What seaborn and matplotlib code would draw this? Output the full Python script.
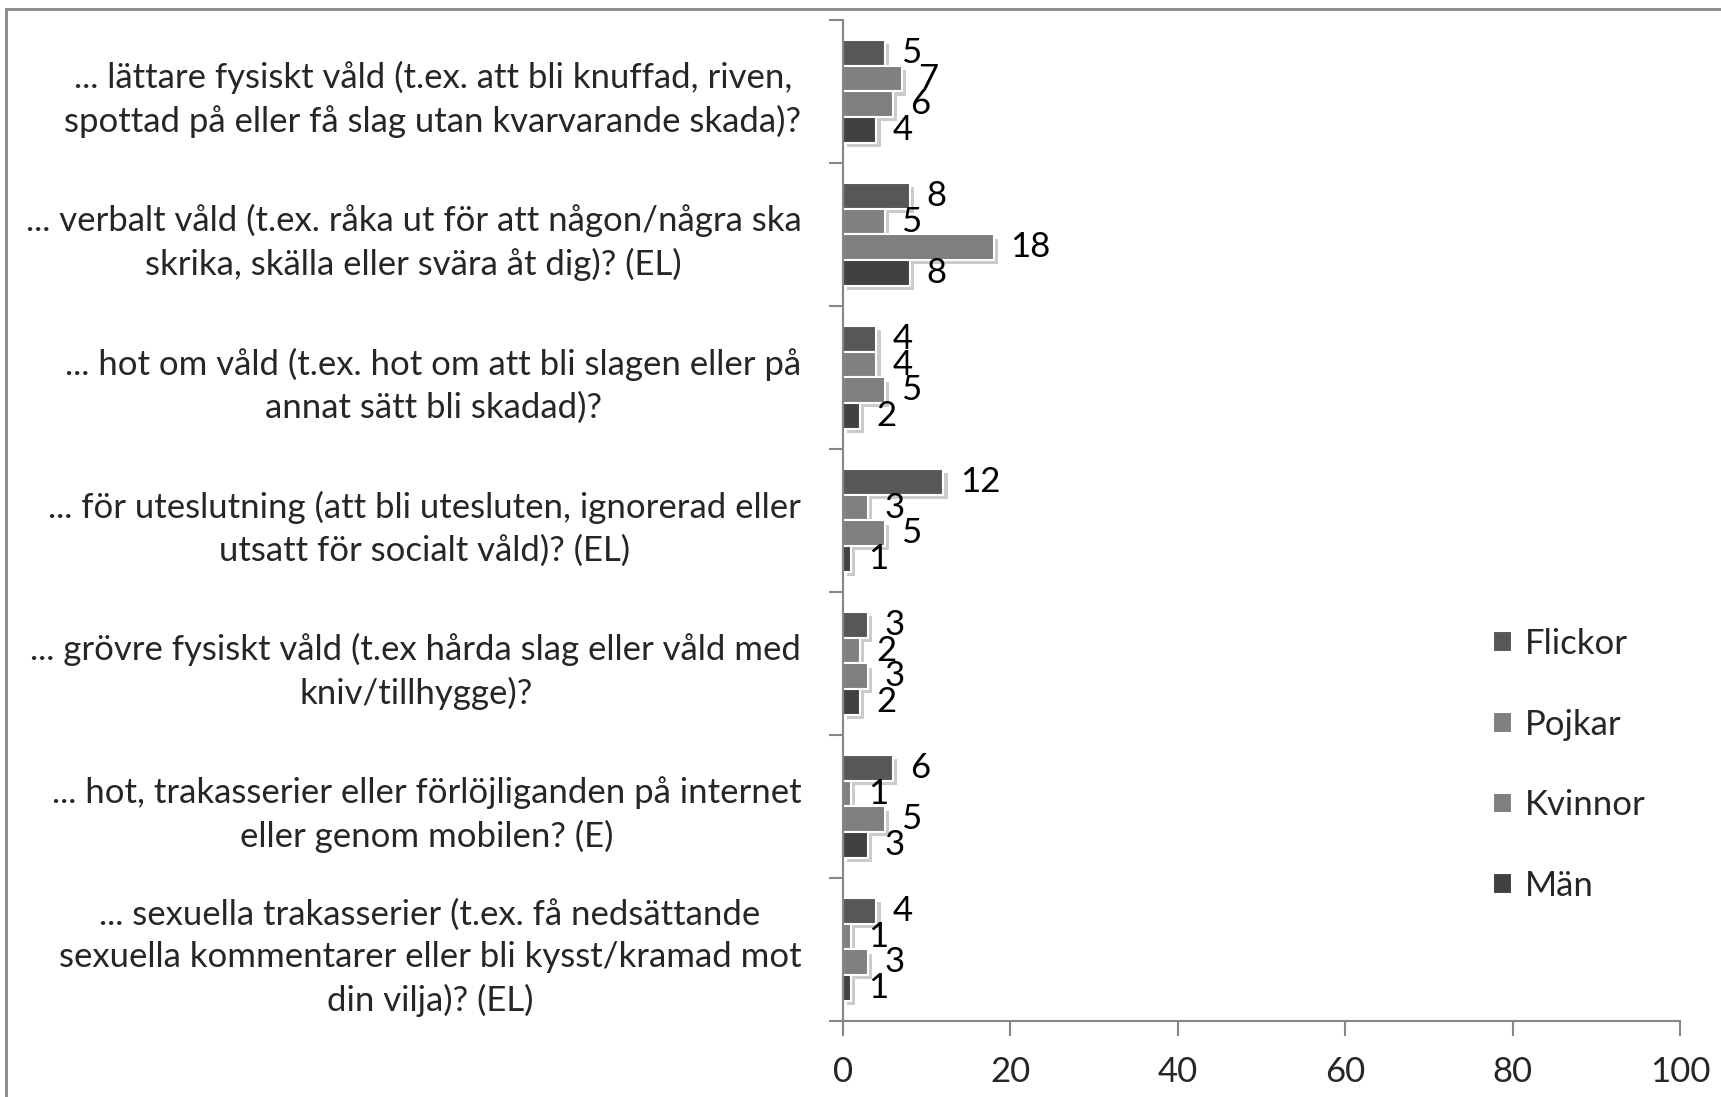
import numpy as np
import pandas as pd
import matplotlib
matplotlib.use("Agg")
import matplotlib.pyplot as plt
import matplotlib.patheffects as pe
from matplotlib.patches import Rectangle
import seaborn as sns

# Data
categories = [
    "... lättare fysiskt våld (t.ex. att bli knuffad, riven,\nspottad på eller få slag utan kvarvarande skada)?",
    "... verbalt våld (t.ex. råka ut för att någon/några ska\nskrika, skälla eller svära åt dig)? (EL)",
    "... hot om våld (t.ex. hot om att bli slagen eller på\nannat sätt bli skadad)?",
    "... för uteslutning (att bli utesluten, ignorerad eller\nutsatt för socialt våld)? (EL)",
    "... grövre fysiskt våld (t.ex hårda slag eller våld med\nkniv/tillhygge)?",
    "... hot, trakasserier eller förlöjliganden på internet\neller genom mobilen? (E)",
    "... sexuella trakasserier (t.ex. få nedsättande\nsexuella kommentarer eller bli kysst/kramad mot\ndin vilja)? (EL)",
]
groups = ["Flickor", "Pojkar", "Kvinnor", "Män"]
flickor = [5, 8, 4, 12, 3, 6, 4]
pojkar = [7, 5, 4, 3, 2, 1, 1]
kvinnor = [6, 18, 5, 5, 3, 5, 3]
man = [4, 8, 2, 1, 2, 3, 1]
x_ticks = [0, 20, 40, 60, 80, 100]

colors = ["#575757", "#808080", "#7f7f7f", "#414141"]

rows = []
for g, vals in zip(groups, [flickor, pojkar, kvinnor, man]):
    for c, v in zip(categories, vals):
        rows.append({"kategori": c, "grupp": g, "andel": v})
df = pd.DataFrame(rows)

sns.set_style("white")
plt.rcParams["font.family"] = ["Lato", "DejaVu Sans"]
FS = 25

fig = plt.figure(figsize=(17.21, 10.97), dpi=100)
ax = fig.add_axes([0.4898, 0.0693, 0.9762 - 0.4898, 0.9818 - 0.0693])

sns.barplot(data=df, y="kategori", x="andel", hue="grupp", order=categories,
            hue_order=groups, palette=colors, orient="h", width=0.72,
            edgecolor="white", linewidth=1.5, ax=ax)

shadow = [pe.SimplePatchShadow(offset=(3, -3), shadow_rgbFace="#999999", alpha=0.5), pe.Normal()]
for bar in ax.patches:
    bar.set_path_effects(shadow)

for cont in ax.containers:
    ax.bar_label(cont, labels=[f"{v:g}" for v in cont.datavalues],
                 padding=12, fontsize=FS, color="black")

ax.set_xlim(0, 100)
ax.set_xticks(x_ticks)
ax.set_xlabel("")
ax.set_ylabel("")
ax.set_yticks(np.arange(-0.5, len(categories)), minor=True)
ax.tick_params(axis="y", which="major", length=0, pad=30, labelsize=FS)
ax.tick_params(axis="y", which="minor", length=10, width=1.5, color="#868686", direction="out", left=True)
ax.tick_params(axis="x", length=11, width=1.5, color="#868686", direction="out", pad=14,
               labelsize=FS, bottom=True)
for lab in ax.get_yticklabels():
    lab.set_multialignment("center")
    lab.set_linespacing(1.4)

for side in ["top", "right"]:
    ax.spines[side].set_visible(False)
for side in ["left", "bottom"]:
    ax.spines[side].set_color("#868686")
    ax.spines[side].set_linewidth(1.5)

handles, labels = ax.get_legend_handles_labels()
ax.get_legend().remove()
for h in handles:
    h.set_path_effects([])
    h.set_edgecolor("white")
fig.legend(handles, labels, loc="center left", bbox_to_anchor=(1462 / 1721, 1 - 765 / 1097),
           frameon=False, fontsize=FS, handlelength=0.55, handleheight=0.55,
           handletextpad=0.35, labelspacing=1.4)

fig.add_artist(Rectangle((6 / 1721, -0.1), 1.2, 1.1 - 9 / 1097, transform=fig.transFigure,
                         fill=False, edgecolor="#868686", linewidth=2))

fig.savefig("out.png", dpi=100)
